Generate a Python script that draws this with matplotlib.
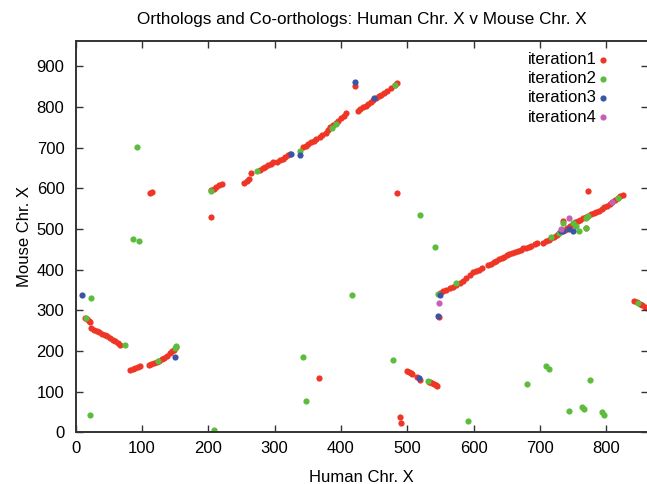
import matplotlib
matplotlib.use("Agg")
import matplotlib.pyplot as plt

plt.rcParams["font.family"] = ["Liberation Sans", "DejaVu Sans"]
plt.rcParams["font.size"] = 12

OUTPUT_PLOT = "out.png"

# iteration1 (red)
iter1_x = [14, 17, 20, 22,
           24, 28, 32, 36, 40, 44, 48, 52, 56, 60, 64, 67,
           82, 86, 90, 94, 97,
           110, 114, 118, 122, 126, 130, 134, 138, 142, 146, 149, 152,
           112, 115, 204,
           204, 208, 212, 216, 220,
           254, 258, 261, 265,
           278, 282, 286, 290, 294, 298,
           304, 308, 312, 316, 320, 323,
           343, 347, 351, 355, 359, 363, 368,
           372, 377, 381,
           384, 388, 392, 396, 400, 404, 408,
           421,
           425, 429, 433, 437, 441, 445, 449, 453, 457, 461, 465, 469,
           475, 481, 484, 485, 367, 489, 490,
           499, 502, 505, 507, 514, 519,
           532, 534, 537, 540, 543, 545,
           547,
           549, 554, 559, 564, 569, 574, 579, 584, 589, 594, 599,
           604, 608, 612,
           622, 626, 630, 634, 638, 642, 646, 650, 654, 658, 662,
           667, 671, 675, 679, 683, 687,
           692, 695,
           705, 709, 713, 717, 721, 725, 729, 733, 737, 741, 745, 749, 753,
           757, 761, 765, 769, 773, 777, 781, 785, 789, 793, 797, 801, 805,
           809, 813, 817, 821, 825,
           735, 770, 773,
           842, 846, 850, 854, 858, 861]
iter1_y = [282, 278, 274, 271,
           256, 252, 249, 246, 243, 240, 236, 232, 228, 224, 219, 215,
           153, 155, 158, 161, 164,
           166, 168, 171, 173, 176, 180, 184, 189, 194, 199, 203, 209,
           588, 592, 530,
           595, 599, 603, 607, 611,
           614, 618, 622, 637,
           645, 649, 653, 656, 660, 664,
           665, 669, 673, 677, 681, 684,
           701, 705, 709, 713, 717, 721, 726,
           731, 737, 743,
           750, 755, 760, 766, 772, 778, 786,
           851,
           791, 795, 799, 803, 807, 812, 817, 821, 826, 830, 835, 840,
           846, 854, 858, 588, 134, 39, 24,
           151, 148, 145, 143, 135, 129,
           124, 125, 122, 120, 117, 115,
           283,
           343, 347, 350, 354, 358, 362, 367, 373, 379, 386, 394,
           397, 400, 403,
           411, 415, 419, 422, 425, 429, 432, 435, 438, 441, 444,
           447, 449, 452, 454, 456, 459,
           462, 465,
           466, 470, 474, 478, 481, 485, 489, 494, 498, 503, 507, 511, 516,
           519, 522, 526, 529, 532, 536, 539, 542, 545, 549, 553, 557, 562,
           567, 572, 576, 580, 583,
           520, 502, 594,
           323, 320, 316, 312, 308, 305]

# iteration2 (green)
iter2_x = [23, 15, 22, 87, 96, 75, 124, 151, 150, 93, 204, 209, 274, 339,
           387, 392, 481, 343, 348, 417, 479, 531, 519, 541, 546, 574, 591,
           681, 709, 713, 775, 743, 764, 767, 793, 796, 717, 728, 735, 749,
           754, 758, 770, 770, 773, 817, 847]
iter2_y = [330, 280, 43, 475, 470, 215, 175, 212, 208, 701, 594, 6, 643, 692,
           748, 757, 854, 186, 78, 338, 179, 127, 534, 455, 340, 367, 28,
           120, 162, 155, 130, 53, 62, 57, 50, 44, 480, 489, 514, 514,
           508, 496, 502, 528, 532, 576, 318]

# iteration3 (blue)
iter3_x = [9, 150, 325, 339, 421, 450, 517, 549, 546, 732, 735, 743, 749]
iter3_y = [338, 185, 684, 683, 861, 822, 133, 338, 286, 496, 495, 501, 496]

# iteration4 (pink)
iter4_x = [547, 732, 743, 809]
iter4_y = [319, 500, 526, 567]

SERIES = [
    ("iteration1", iter1_x, iter1_y, "#ee3526"),
    ("iteration2", iter2_x, iter2_y, "#5cbc3c"),
    ("iteration3", iter3_x, iter3_y, "#3a55a6"),
    ("iteration4", iter4_x, iter4_y, "#c660b6"),
]


def plot_results():
    fig = plt.figure(figsize=(6.47, 4.84), dpi=100)
    ax = fig.add_axes([0.1168, 0.1066, 0.8847, 0.8087])

    for label, xs, ys, color in SERIES:
        ax.scatter(xs, ys, s=20, color=color, linewidths=0, label=label)

    ax.set_xlim(0, 862.7)
    ax.set_ylim(0, 962)
    ax.set_xticks(range(0, 801, 100))
    ax.set_yticks(range(0, 901, 100))
    ax.tick_params(direction="in", length=5, width=1, top=True, right=True,
                   colors="#333333", labelcolor="black")
    ax.tick_params(axis="x", pad=6)
    ax.tick_params(axis="y", pad=8)
    for sp in ax.spines.values():
        sp.set_color("#333333")
        sp.set_linewidth(1.4)

    ax.set_title("Orthologs and Co-orthologs: Human Chr. X v Mouse Chr. X",
                 fontsize=12.3, pad=12)
    ax.set_xlabel("Human Chr. X", labelpad=10)
    ax.set_ylabel("Mouse Chr. X", labelpad=3)

    ax.legend(loc="upper right", bbox_to_anchor=(608 / 647, 1 - 52 / 484),
              bbox_transform=fig.transFigure, frameon=False, markerfirst=False,
              handlelength=0.6, handletextpad=0.05, labelspacing=0.25,
              borderaxespad=0, borderpad=0, scatterpoints=1)

    fig.savefig(OUTPUT_PLOT, dpi=100)


if __name__ == "__main__":
    plot_results()
